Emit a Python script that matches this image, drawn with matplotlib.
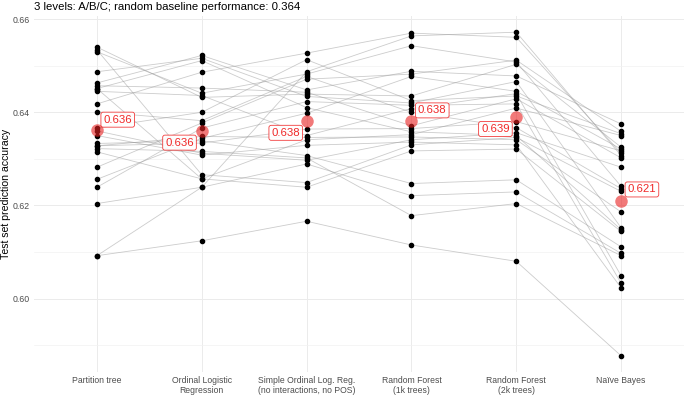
import matplotlib
matplotlib.use('Agg')
import matplotlib.pyplot as plt
import numpy as np

plt.rcParams['font.family'] = ['Liberation Sans', 'DejaVu Sans']

models = ['Partition tree', 'Ordinal Logistic\nRegression',
          'Simple Ordinal Log. Reg.\n(no interactions, no POS)',
          'Random Forest\n(1k trees)', 'Random Forest\n(2k trees)', 'Naïve Bayes']

# one value per run (25 runs), same run order in every list
partition_tree = [0.6540, 0.6534, 0.6530, 0.6487, 0.6463, 0.6457, 0.6451, 0.6451, 0.6445, 0.6418,
                  0.6401, 0.6366, 0.6360, 0.6350, 0.6333, 0.6328, 0.6328, 0.6322, 0.6315, 0.6282,
                  0.6256, 0.6239, 0.6204, 0.6092, 0.6092]
ordinal_lr = [0.6432, 0.6266, 0.6441, 0.6516, 0.6522, 0.6452, 0.6511, 0.6257, 0.6436, 0.6486,
              0.6382, 0.6400, 0.6312, 0.6308, 0.6339, 0.6334, 0.6348, 0.6316, 0.6257, 0.6377,
              0.6344, 0.6366, 0.6239, 0.6124, 0.6239]
simple_olr = [0.6439, 0.6249, 0.6482, 0.6434, 0.6448, 0.6443, 0.6410, 0.6239, 0.6350, 0.6527,
              0.6477, 0.6513, 0.6297, 0.6329, 0.6307, 0.6364, 0.6346, 0.6302, 0.6341, 0.6471,
              0.6398, 0.6423, 0.6289, 0.6166, 0.6487]
rf_1k = [0.6435, 0.6330, 0.6543, 0.6420, 0.6488, 0.6371, 0.6358, 0.6317, 0.6408, 0.6570,
         0.6400, 0.6425, 0.6341, 0.6336, 0.6247, 0.6365, 0.6347, 0.6178, 0.6352, 0.6482,
         0.6477, 0.6415, 0.6221, 0.6115, 0.6564]
rf_2k = [0.6503, 0.6346, 0.6508, 0.6466, 0.6478, 0.6429, 0.6350, 0.6321, 0.6440, 0.6561,
         0.6367, 0.6435, 0.6356, 0.6330, 0.6255, 0.6380, 0.6341, 0.6204, 0.6409, 0.6512,
         0.6445, 0.6418, 0.6229, 0.6080, 0.6572]
naive_bayes = [0.6325, 0.6230, 0.6241, 0.6152, 0.6375, 0.6302, 0.6148, 0.6144, 0.6049, 0.6312,
               0.6236, 0.6354, 0.6282, 0.6023, 0.6111, 0.6317, 0.6186, 0.6092, 0.6350, 0.6359,
               0.6321, 0.6033, 0.6097, 0.5877, 0.6307]

title = '3 levels: A/B/C; random baseline performance: 0.364'

acc = np.array([partition_tree, ordinal_lr, simple_olr, rf_1k, rf_2k, naive_bayes])
x = np.arange(1, len(models) + 1)
means = acc.mean(axis=1)

red = '#F02828'
fig = plt.figure(figsize=(6.85, 3.95), dpi=100)
ax = fig.add_axes([34 / 685, 23 / 395, 650 / 685, 356 / 395])

# one grey line per run
for run in range(acc.shape[1]):
    ax.plot(x, acc[:, run], color='#999999', alpha=0.5, lw=0.6, zorder=2)
for i in range(len(models)):
    ax.plot(np.full(acc.shape[1], x[i]), acc[i], 'o', color='black', ms=3, zorder=3)

ax.plot(x, means, 'o', color='#E82020', alpha=0.6, ms=9, mec='none', zorder=4)

# labels alternate above-right / below-left
offsets = [(15, 7.5), (-16, -8.5), (-15, -8.5), (15, 8), (-15, -8.5), (15, 8.5)]
for i, m in enumerate(means):
    ax.annotate(f'{m:.3f}', (x[i], m), xytext=offsets[i], textcoords='offset points',
                ha='center', va='center', color=red, fontsize=8.2, zorder=5,
                bbox=dict(boxstyle='round,pad=0.22,rounding_size=0.2', fc='white', ec=red,
                          lw=0.6, alpha=0.9))

lo, hi = acc.min(), acc.max()
pad = (hi - lo) * 0.05
ax.set_ylim(lo - pad, hi + pad)
ax.set_xlim(0.4, len(models) + 0.6)

ax.set_xticks(x)
ax.set_xticklabels(models, fontsize=6.2, color='#4D4D4D', linespacing=1.15)
ax.set_yticks([0.60, 0.62, 0.64, 0.66])
ax.set_yticklabels(['0.60', '0.62', '0.64', '0.66'], fontsize=6.3, color='#4D4D4D')
ax.set_yticks([0.59, 0.61, 0.63, 0.65], minor=True)
ax.tick_params(axis='both', which='both', length=0, pad=3)
ax.grid(True, which='major', color='#EBEBEB', lw=0.7, zorder=0)
ax.grid(True, which='minor', axis='y', color='#F2F2F2', lw=0.5, zorder=0)
for s in ax.spines.values():
    s.set_visible(False)

fig.text(6 / 685, 1 - 194 / 395, 'Test set prediction accuracy', fontsize=7.6,
         rotation=90, ha='center', va='center')
fig.text(34 / 685, 1 - 7 / 395, title, fontsize=8.2, va='center', ha='left')

fig.savefig('out.png', dpi=100)
